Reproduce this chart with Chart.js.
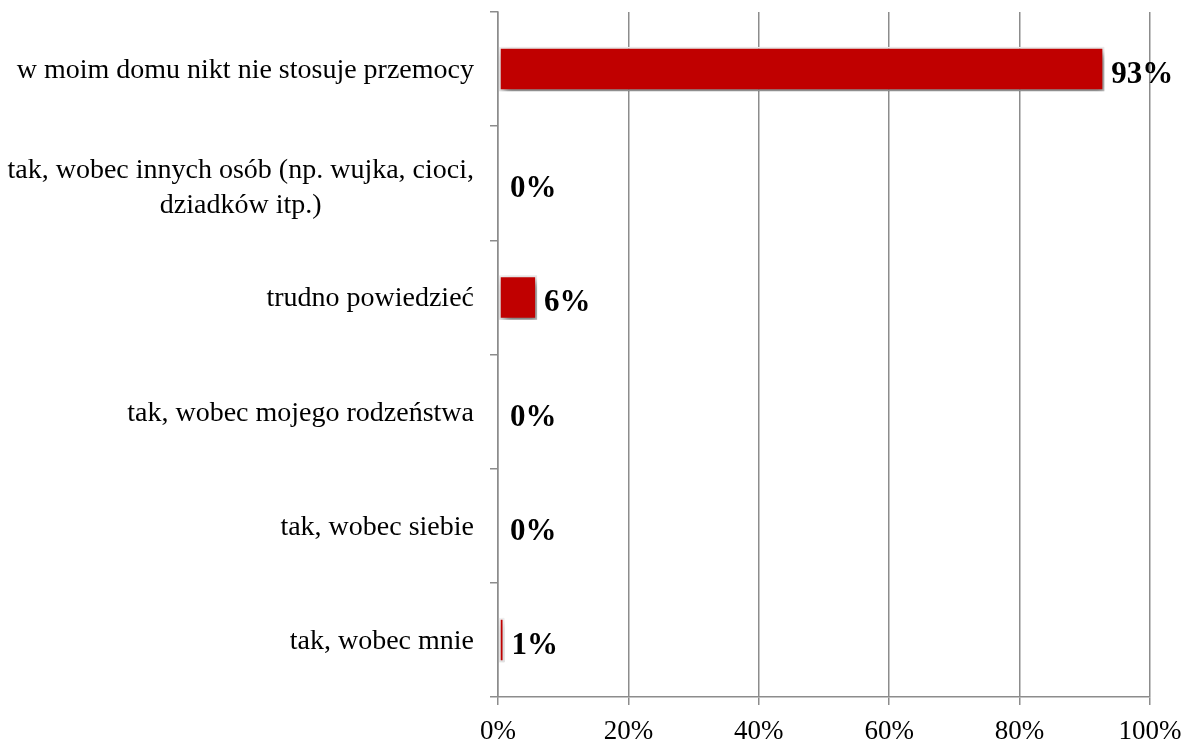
<!DOCTYPE html>
<html>
<head>
<meta charset="utf-8">
<script src="https://cdn.jsdelivr.net/npm/chart.js@4"></script>
<style>
  html, body { margin: 0; padding: 0; background: #fff; }
  #wrap { width: 1191px; height: 745px; }
</style>
</head>
<body>
<div id="wrap"><canvas id="chart"></canvas></div>
<script>
// Data
const categories = [
  'w moim domu nikt nie stosuje przemocy',
  ['tak, wobec innych osób (np. wujka, cioci,', 'dziadków itp.)'],
  'trudno powiedzieć',
  'tak, wobec mojego rodzeństwa',
  'tak, wobec siebie',
  'tak, wobec mnie'
];
const values = [93, 0, 6, 0, 0, 1];
const valueLabels = ['93%', '0%', '6%', '0%', '0%', '1%'];
const xTicks = [0, 20, 40, 60, 80, 100];

const FONT = "'Liberation Serif', 'DejaVu Serif', serif";

// shadow under the bars
const barShadow = {
  id: 'barShadow',
  beforeDatasetsDraw(chart) {
    const c = chart.ctx;
    c.save();
    c.shadowColor = 'rgba(0,0,0,0.5)';
    c.shadowBlur = 8;
    c.shadowOffsetX = 3;
    c.shadowOffsetY = 5;
  },
  afterDatasetsDraw(chart) {
    chart.ctx.restore();
  }
};

// category labels: block right-aligned, lines centred inside the block
const categoryLabels = {
  id: 'categoryLabels',
  afterDraw(chart) {
    const c = chart.ctx;
    const yScale = chart.scales.y;
    const right = chart.chartArea.left - 24;
    const lineH = 35;
    c.save();
    c.font = "28px " + FONT;
    c.fillStyle = '#000';
    c.textAlign = 'center';
    c.textBaseline = 'alphabetic';
    categories.forEach(function (lab, i) {
      const lines = Array.isArray(lab) ? lab : [lab];
      const w = Math.max.apply(null, lines.map(l => c.measureText(l).width));
      const cx = right - w / 2;
      const y0 = yScale.getPixelForValue(i) + 9 - (lines.length - 1) * lineH / 2 + (lines.length - 1) * 3;
      lines.forEach(function (l, k) {
        c.fillText(l, cx, y0 + k * lineH);
      });
    });
    c.restore();
  }
};

// value labels next to bars
const valueLabelPlugin = {
  id: 'valueLabels',
  afterDraw(chart) {
    const c = chart.ctx;
    const meta = chart.getDatasetMeta(0);
    c.save();
    c.font = "bold 31px " + FONT;
    c.fillStyle = '#000';
    c.textAlign = 'left';
    c.textBaseline = 'alphabetic';
    meta.data.forEach(function (bar, i) {
      const x = Math.max(bar.x + 7, chart.chartArea.left + 12);
      c.fillText(valueLabels[i], x, bar.y + 14);
    });
    c.restore();
  }
};

const ctx = document.getElementById('chart').getContext('2d');
new Chart(ctx, {
  type: 'bar',
  data: {
    labels: categories,
    datasets: [{
      data: values,
      backgroundColor: '#c00000',
      borderColor: '#efefef',
      borderWidth: 2,
      borderSkipped: false,
      categoryPercentage: 1,
      barPercentage: 0.39
    }]
  },
  plugins: [barShadow, categoryLabels, valueLabelPlugin],
  options: {
    indexAxis: 'y',
    responsive: true,
    maintainAspectRatio: false,
    animation: false,
    layout: { padding: { top: 12, right: 41, bottom: 0, left: 0 } },
    plugins: {
      legend: { display: false },
      tooltip: { enabled: false }
    },
    scales: {
      x: {
        min: 0,
        max: 100,
        afterBuildTicks: function (scale) {
          scale.ticks = xTicks.map(v => ({ value: v }));
        },
        afterFit: function (scale) {
          scale.height = 48;
          scale.paddingLeft = 0;
          scale.paddingRight = 0;
        },
        grid: { color: '#8c8c8c', lineWidth: 1.5, tickLength: 8 },
        border: { color: '#8c8c8c', width: 1.5 },
        ticks: {
          color: '#000',
          padding: 11,
          font: { family: FONT, size: 27 },
          callback: v => v + '%'
        }
      },
      y: {
        afterFit: function (scale) {
          scale.width = 498;
          scale.paddingTop = 0;
          scale.paddingBottom = 0;
        },
        grid: { drawOnChartArea: false, color: '#8c8c8c', lineWidth: 1.5, tickLength: 8 },
        border: { color: '#8c8c8c', width: 1.5 },
        ticks: { display: false }
      }
    }
  }
});
</script>
</body>
</html>
